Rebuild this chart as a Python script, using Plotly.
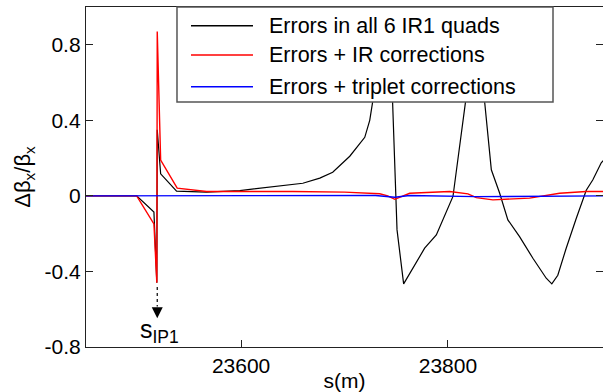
import plotly.graph_objects as go

# ---- data ----
s_black = [23450, 23499.0, 23515.7, 23518.5, 23518.9, 23522.2, 23537.6, 23566.6, 23598.8,
           23630.7, 23659.7, 23676.1, 23688.6, 23705.1, 23719.6, 23724.4, 23727.3, 23737.0,
           23746.9, 23750.8, 23757.2, 23777.5, 23788.8, 23804.9, 23817.1, 23825.8, 23835.5,
           23842.0, 23850.0, 23858.0, 23869.3, 23882.2, 23895.1, 23900.5, 23906.3, 23914.4,
           23924.1, 23933.8, 23940.2, 23948.3, 23956.0]
v_black = [0.0, 0.0, -0.086, -0.46, 0.35, 0.117, 0.025, 0.02, 0.028,
           0.049, 0.067, 0.094, 0.125, 0.21, 0.31, 0.40, 0.50, 2.0,
           0.50, -0.18, -0.466, -0.277, -0.207, -0.003, 0.50, 2.0, 0.50,
           0.138, 0.015, -0.127, -0.216, -0.33, -0.436, -0.466, -0.42, -0.277,
           -0.12, 0.03, 0.085, 0.175, 0.22]

s_red = [23450, 23499.0, 23515.7, 23518.5, 23518.9, 23522.2, 23538.2, 23566.6, 23650,
         23700, 23734.1, 23741.8, 23748.6, 23763.0, 23801.7, 23819.4, 23827.5, 23843.5,
         23879.0, 23908.0, 23933.8, 23956.0]
v_red = [0.0, 0.0, -0.148, -0.46, 0.87, 0.19, 0.041, 0.023, 0.023,
         0.02, 0.011, 0.0, -0.018, 0.014, 0.023, 0.011, -0.009, -0.021,
         -0.012, 0.014, 0.023, 0.023]

s_blue = [23450, 23730, 23748.6, 23763, 23827, 23908, 23956]
v_blue = [0.0, 0.002, -0.007, 0.002, -0.004, 0.0, 0.0]

names = ["Errors in all 6 IR1 quads", "Errors + IR corrections", "Errors + triplet corrections"]
colors = ["#000000", "#ff0000", "#0000ff"]
widths = [1.2, 1.4, 1.4]

y_ticks = [-0.8, -0.4, 0, 0.4, 0.8]
y_ticktext = ["-0.8", "-0.4", "0", "0.4", "0.8"]
x_ticks = [23600, 23800]
x_ticktext = ["23600", "23800"]

s_ip1 = 23518.9

FONT = "Liberation Sans, Arial, Helvetica, sans-serif"
FS = 21

fig = go.Figure()
for s, v, n, c, w in zip([s_black, s_red, s_blue], [v_black, v_red, v_blue], names, colors, widths):
    fig.add_trace(go.Scatter(x=s, y=v, mode="lines", name=n, showlegend=False,
                             line=dict(color=c, width=w)))

# IP1 marker: dotted stem + arrow head + label
fig.add_shape(type="line", x0=s_ip1, x1=s_ip1, y0=-0.482, y1=-0.585, xref="x", yref="y",
              line=dict(color="black", width=1.2, dash="dot"))
fig.add_annotation(x=s_ip1, y=-0.648, ax=s_ip1, ay=-0.585, axref="x", ayref="y",
                   text="", showarrow=True, arrowhead=2, arrowsize=2.2, arrowwidth=1,
                   arrowcolor="black", standoff=0)
fig.add_annotation(x=23521.5, y=-0.715, xref="x", yref="y", text="s<sub>IP1</sub>",
                   showarrow=False, font=dict(size=25, color="black", family=FONT),
                   xanchor="center", yanchor="middle")

# legend box drawn in plot-paper coordinates
L_X0, L_X1, L_Y0, L_Y1 = 0.1760, 0.9033, 0.7206, 1.0
fig.add_shape(type="rect", xref="paper", yref="paper", x0=L_X0, x1=L_X1, y0=L_Y0, y1=L_Y1,
              fillcolor="white", line=dict(color="#555", width=1.5), layer="above")
row_y = [0.945, 0.8588, 0.7656]
for n, c, ry in zip(names, colors, row_y):
    fig.add_shape(type="line", xref="paper", yref="paper", x0=0.2031, x1=0.3230, y0=ry, y1=ry,
                  line=dict(color=c, width=1.4), layer="above")
    fig.add_annotation(xref="paper", yref="paper", x=0.3501, y=ry, text=n, showarrow=False,
                       xanchor="left", yanchor="middle",
                       font=dict(size=21.5, color="black", family=FONT))

axis_common = dict(showline=True, linecolor="#222", linewidth=1.3, mirror="ticks",
                   ticks="inside", ticklen=7, tickwidth=1, tickcolor="#222",
                   showgrid=False, zeroline=False,
                   tickfont=dict(size=FS, color="black", family=FONT))

fig.update_xaxes(range=[23450, 23950], tickvals=x_ticks, ticktext=x_ticktext,
                 title=dict(text="s(m)", font=dict(size=FS, color="black", family=FONT), standoff=0),
                 **axis_common)
fig.update_yaxes(range=[-0.8, 1.0], tickvals=y_ticks, ticktext=y_ticktext,
                 title=dict(text="Δβ<sub>x</sub>/β<sub>x</sub>", font=dict(size=22, color="black", family=FONT),
                            standoff=7),
                 **axis_common)

fig.update_layout(
    width=603, height=392,
    margin=dict(l=86, r=0, t=7, b=45, autoexpand=False),
    paper_bgcolor="white", plot_bgcolor="white",
    font=dict(family=FONT, color="black", size=FS),
    showlegend=False,
)

fig.write_html("out.html")
